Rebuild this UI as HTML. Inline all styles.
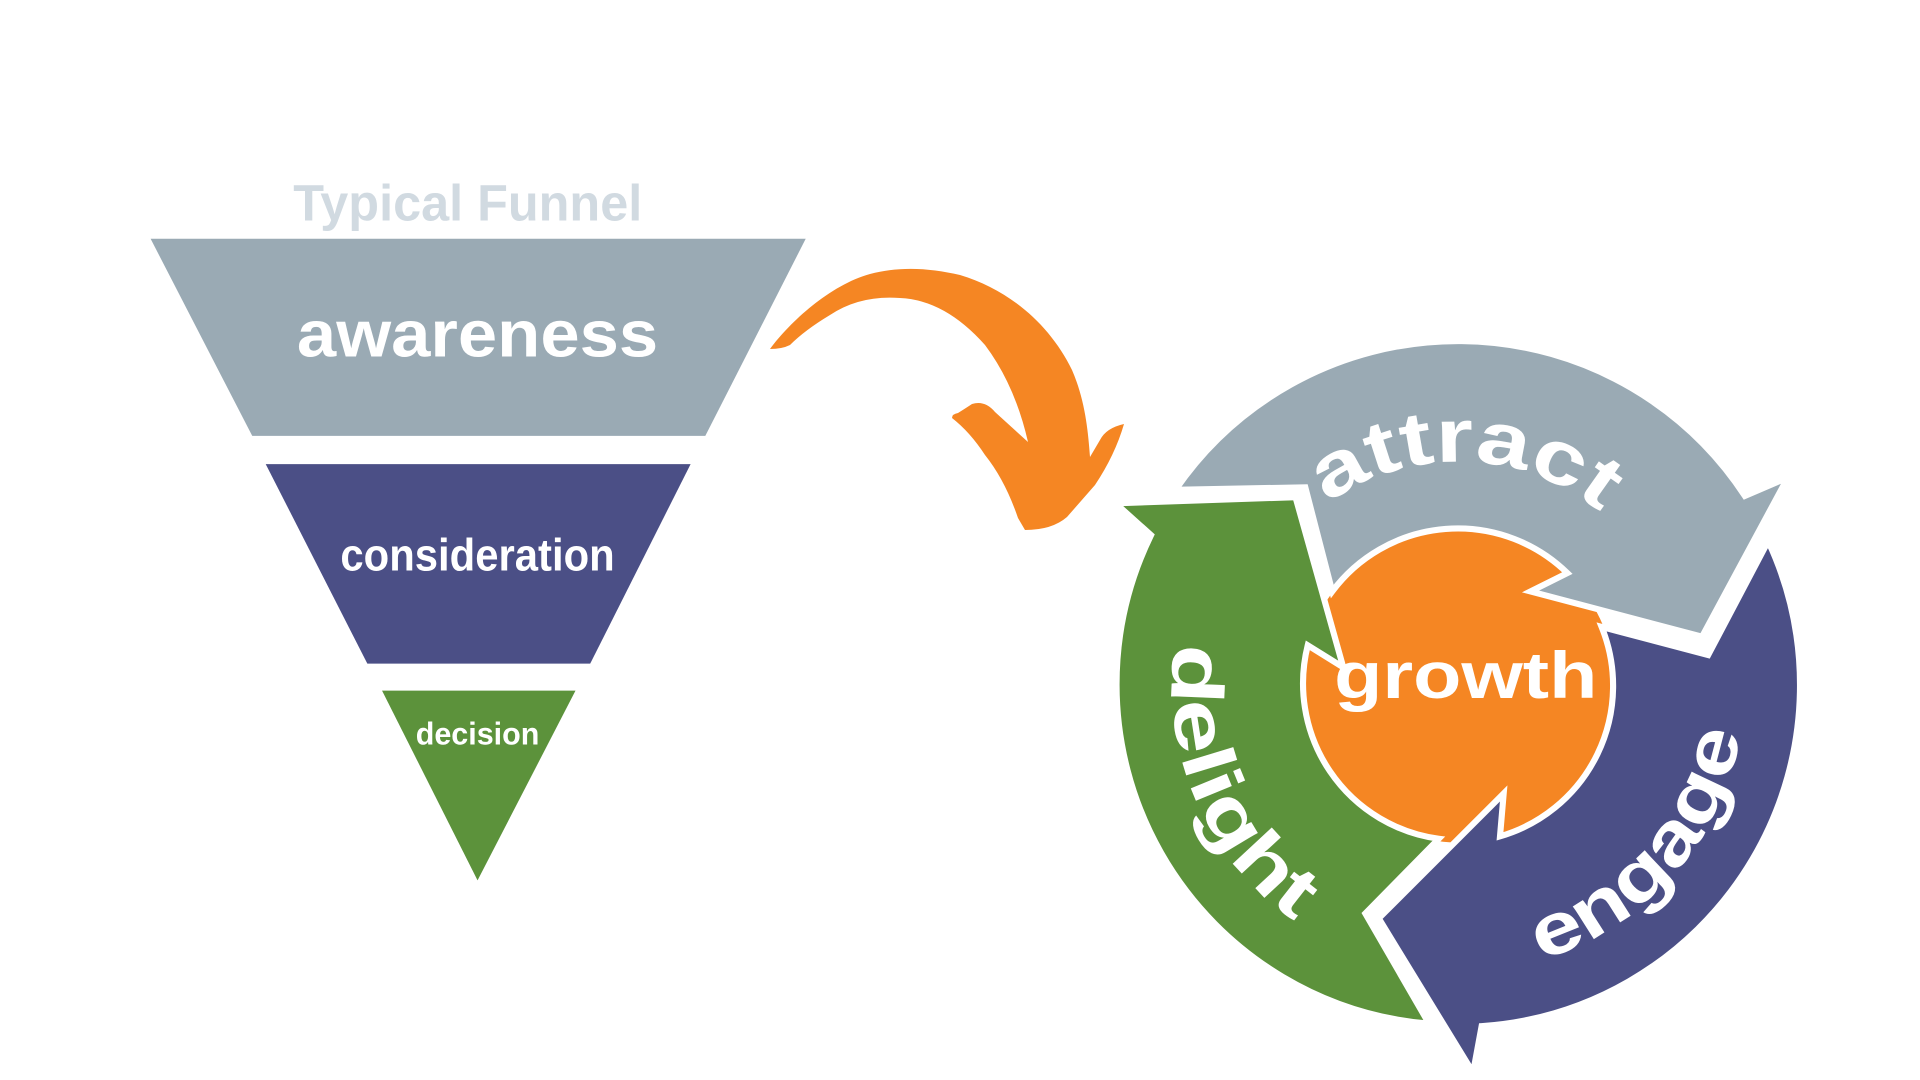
<!DOCTYPE html>
<html><head><meta charset="utf-8"><style>
html,body{margin:0;padding:0;background:#fff;width:1920px;height:1080px;overflow:hidden}
svg{position:absolute;left:0;top:0}
text{font-family:"Liberation Sans","DejaVu Sans",sans-serif;font-weight:bold;fill:#fff}
</style></head><body>
<svg width="1920" height="1080" viewBox="0 0 1568 882" xmlns="http://www.w3.org/2000/svg">
<defs>
<path id="pAttract" d="M1008,560 A183,183 0 0 1 1374,560"/>
<path id="pDelight" d="M1191,326 A234,234 0 0 0 1191,794"/>
<path id="pEngage" d="M1191,794 A234,234 0 0 0 1191,326"/>
</defs>
<text x="382" y="180" text-anchor="middle" font-size="42" style="fill:#d1dae1" textLength="285" lengthAdjust="spacingAndGlyphs">Typical Funnel</text>
<polygon points="123,195 658,195 576,356 206,356" fill="#9aaab4"/>
<polygon points="217,379 564,379 482,542 300,542" fill="#4b4f86"/>
<polygon points="312,564 470,564 390,719" fill="#5c923b"/>
<text x="390" y="291" text-anchor="middle" font-size="54" textLength="295" lengthAdjust="spacingAndGlyphs">awareness</text>
<text x="390" y="466" text-anchor="middle" font-size="37" textLength="224" lengthAdjust="spacingAndGlyphs">consideration</text>
<text x="390" y="608" text-anchor="middle" font-size="26" textLength="101" lengthAdjust="spacingAndGlyphs">decision</text>

<circle cx="1191" cy="560" r="128" fill="#f58623"/>
<g stroke="#fff" stroke-width="5" stroke-linejoin="miter">
<path fill="#4b4f86" d="M1444,442 A279,279 0 0 1 1210,838 L1203,876 L1126,750 L1228,648 L1225,683 A128,128 0 0 0 1308,512 L1395,535 Z"/>
<path fill="#9aaab4" d="M960,400 A280,280 0 0 1 1425,405 L1460,390 L1390,520 L1250,483 L1280,468 A128,128 0 0 0 1088,483 L1066,398 Z"/>
<path fill="#5c923b" d="M1167,836 A278,278 0 0 1 940,437 L911,411 L1058,406 L1097,545 L1068,527 A128,128 0 0 0 1175,685 L1115,746 Z"/>
</g>
<text x="1197" y="570" text-anchor="middle" font-size="54" textLength="215" lengthAdjust="spacingAndGlyphs">growth</text>
<text font-size="62"><textPath href="#pAttract" startOffset="51%" text-anchor="middle" textLength="240" lengthAdjust="spacingAndGlyphs">attract</textPath></text>
<text font-size="60"><textPath href="#pDelight" startOffset="63%" text-anchor="middle" textLength="260" lengthAdjust="spacingAndGlyphs">delight</textPath></text>
<text font-size="60"><textPath href="#pEngage" startOffset="27%" text-anchor="middle" textLength="260" lengthAdjust="spacingAndGlyphs">engage</textPath></text>
</svg>
<svg width="1920" height="1080" xmlns="http://www.w3.org/2000/svg">
<path fill="#f58623" d="M770,349 C790,322 830,285 870,274 C900,266 930,268 960,275 C1010,290 1050,325 1072,370 C1085,400 1088,430 1090,457 L1100,440 Q1106,428 1124,424 Q1115,455 1095,485 L1067,517 Q1052,530 1025,530 L1018,518 Q1005,480 985,455 Q970,432 952,418 Q952,414 958,413 Q966,408 972,404 Q985,400 995,412 L1028,442 Q1015,385 985,345 Q945,300 900,298 Q860,295 830,315 Q805,330 790,345 Q782,349 770,349 Z"/>
</svg>
</body></html>
